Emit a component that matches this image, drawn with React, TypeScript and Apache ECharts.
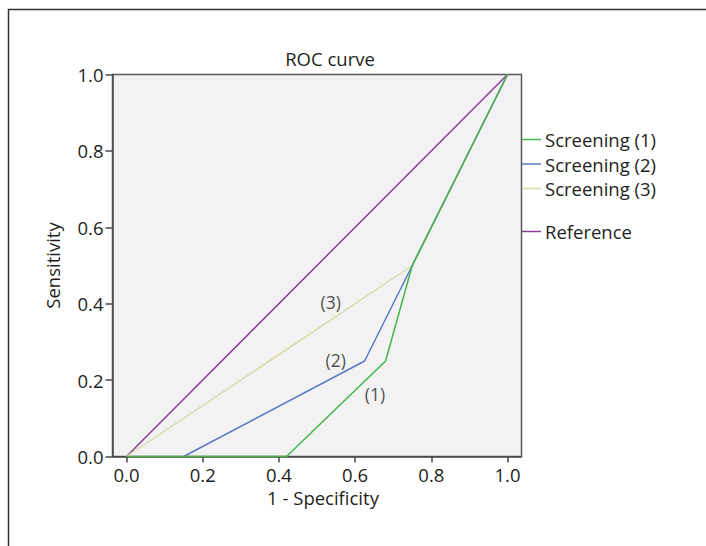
import React, { useEffect, useRef } from "react";
import * as echarts from "echarts";

const xTicks = [0, 0.2, 0.4, 0.6, 0.8, 1.0];
const screening1 = [[0, 0], [0.42, 0], [0.68, 0.25], [0.75, 0.5], [1, 1]];
const screening2 = [[0.15, 0], [0.625, 0.25], [0.75, 0.5], [1, 1]];
const screening3 = [[0, 0], [0.75, 0.5], [1, 1]];
const reference = [[0, 0], [1, 1]];
const curveLabels = [
  { name: "(3)", value: [0.536, 0.405] },
  { name: "(2)", value: [0.549, 0.253] },
  { name: "(1)", value: [0.652, 0.164] },
];

const FONT = "Open Sans";
const TXT = "#231f20";
const FS = 18.5;

export default function App() {
  const ref = useRef<HTMLDivElement>(null);
  useEffect(() => {
    const chart = echarts.init(ref.current!, null, { renderer: "svg" });
    const line = (name: string, data: number[][], color: string) => ({
      name,
      type: "line",
      data,
      symbol: "none",
      lineStyle: { color, width: 1.5 },
      itemStyle: { color },
    });
    const legendText = { fontFamily: FONT, fontSize: FS, color: TXT, lineHeight: 20, padding: [0, 0, 0, -1] };
    chart.setOption({
      animation: false,
      backgroundColor: "#ffffff",
      textStyle: { fontFamily: FONT, color: TXT },
      title: {
        text: "ROC curve",
        left: 330,
        top: 49,
        textAlign: "center",
        padding: 0,
        textStyle: { fontFamily: FONT, fontSize: FS, fontWeight: "normal", color: TXT },
      },
      grid: {
        left: 112.5,
        right: 184.5,
        top: 74.5,
        bottom: 89.5,
        show: true,
        backgroundColor: "#f2f2f2",
        borderColor: "#5a5a5a",
        borderWidth: 1.5,
      },
      legend: [
        {
          data: ["Screening (1)", "Screening (2)", "Screening (3)"],
          orient: "vertical",
          left: 522,
          top: 129.5,
          padding: 0,
          icon: "rect",
          itemWidth: 19,
          itemHeight: 1.5,
          itemGap: 4.5,
          textStyle: legendText,
        },
        {
          data: ["Reference"],
          orient: "vertical",
          left: 522,
          top: 221.5,
          padding: 0,
          icon: "rect",
          itemWidth: 19,
          itemHeight: 1.5,
          textStyle: legendText,
        },
      ],
      xAxis: {
        type: "value",
        min: -0.0367,
        max: 1.0367,
        name: "1 - Specificity",
        nameLocation: "middle",
        nameGap: 30,
        nameTextStyle: { fontFamily: FONT, fontSize: FS, color: TXT, padding: [0, 0, 0, 12] },
        axisLine: { show: true, onZero: false, lineStyle: { color: "#4a4a4a", width: 1.5 } },
        axisTick: { show: true, customValues: xTicks, length: 6, lineStyle: { color: "#4a4a4a", width: 1.5 } },
        axisLabel: {
          customValues: xTicks,
          formatter: (v: number) => v.toFixed(1),
          fontFamily: FONT,
          fontSize: FS,
          color: TXT,
          margin: 8,
        },
        splitLine: { show: false },
      },
      yAxis: {
        type: "value",
        min: 0,
        max: 1,
        interval: 0.2,
        name: "Sensitivity",
        nameLocation: "middle",
        nameGap: 51,
        nameTextStyle: { fontFamily: FONT, fontSize: FS, color: TXT },
        axisLine: { show: true, onZero: false, lineStyle: { color: "#4a4a4a", width: 1.5 } },
        axisTick: { show: true, length: 7, lineStyle: { color: "#4a4a4a", width: 1.5 } },
        axisLabel: {
          formatter: (v: number) => v.toFixed(1),
          fontFamily: FONT,
          fontSize: FS,
          color: TXT,
          margin: 9,
        },
        splitLine: { show: false },
      },
      graphic: [
        {
          type: "rect",
          shape: { x: 8.5, y: 9.5, width: 800, height: 700 },
          style: { fill: "none", stroke: "#333", lineWidth: 1.5 },
          silent: true,
          z: -10,
        },
      ],
      series: [
        line("Reference", reference, "#8b3f97"),
        line("Screening (3)", screening3, "#dcdba8"),
        line("Screening (2)", screening2, "#5a78c6"),
        line("Screening (1)", screening1, "#45b549"),
        {
          type: "scatter",
          data: curveLabels,
          symbolSize: 0,
          silent: true,
          label: {
            show: true,
            position: "inside",
            formatter: (p: any) => p.name,
            fontFamily: FONT,
            fontSize: 17.5,
            color: TXT,
          },
          z: 5,
        },
      ],
    });
    return () => chart.dispose();
  }, []);
  return (
    <div
      ref={ref}
      style={{ position: "fixed", left: 0, top: 0, width: 706, height: 546 }}
    />
  );
}
